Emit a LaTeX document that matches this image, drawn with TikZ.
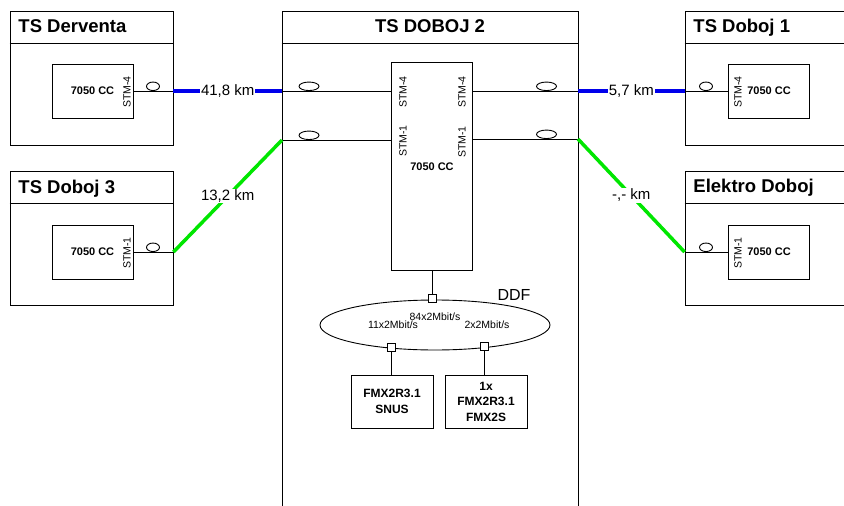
\documentclass[tikz,border=0pt]{standalone}
\usepackage{fontspec}
\setmainfont{Liberation Sans}
\usetikzlibrary{positioning,shapes.geometric}
\definecolor{fibreblue}{RGB}{0,0,235}
\definecolor{fibregreen}{RGB}{0,230,0}

\begin{document}
\begin{tikzpicture}[x=1pt, y=-1pt, line width=0.9pt,
  site/.style={draw, minimum width=163pt, minimum height=134pt, inner sep=0pt},
  title/.style={font=\bfseries\fontsize{18.5}{20}\selectfont, inner sep=0pt},
  unit/.style={draw, minimum width=81pt, minimum height=54pt, inner sep=0pt, font=\bfseries\fontsize{11}{13}\selectfont},
  stm/.style={font=\fontsize{10.5}{12}\selectfont, rotate=90, inner sep=0pt},
  lens/.style={draw, ellipse, minimum width=#1, minimum height=8.5pt, inner sep=0pt, anchor=south},
  lens/.default=13pt,
  tap/.style={draw, fill=white, minimum size=8pt, inner sep=0pt},
  fibre/.style={line width=3.5pt, draw=#1},
  dist/.style={font=\fontsize{15}{17}\selectfont, fill=white, inner sep=1pt},
  rate/.style={font=\fontsize{10.5}{12}\selectfont, inner sep=0pt},
  fmx/.style={draw, minimum width=82pt, minimum height=53pt, inner sep=0pt, align=center, font=\bfseries\fontsize{12}{15.5}\selectfont}]
\useasboundingbox (0,0) rectangle (844,506);

% TS DOBOJ 2
\node[site, minimum width=296pt, minimum height=499pt] (tsd) at (430,260.5) {};
\node[title, anchor=base] (tsdT) at (430,32) {TS DOBOJ 2};
\draw (tsd.west |- 0,43) -- (tsd.east |- 0,43);
\node[draw, minimum width=81pt, minimum height=208pt] (main) at (431.5,166) {};
\node[font=\bfseries\fontsize{11}{13}\selectfont] (mainCC) at (432,167) {7050 CC};
\node[stm] (mainW4) at (403,92) {STM-4};
\node[stm] (mainW1) at (403,141) {STM-1};
\node[stm] (mainE4) at (462,92) {STM-4};
\node[stm] (mainE1) at (462,142) {STM-1};
\coordinate (w4) at (282,91);
\coordinate (w1) at (282,140);
\coordinate (e4) at (578,91);
\coordinate (e1) at (578,139);
\draw (w4) -- (main.west |- w4);
\draw (w1) -- (main.west |- w1);
\draw (e4) -- (main.east |- e4);
\draw (e1) -- (main.east |- e1);
\node[lens=20pt] (lw4) at (309,91) {};
\node[lens=20pt] (lw1) at (309,140) {};
\node[lens=20pt] (le4) at (546.5,91) {};
\node[lens=20pt] (le1) at (546.5,139) {};

% DDF
\node[draw, ellipse, minimum width=230pt, minimum height=50pt, inner sep=0pt] (ddf) at (435,325) {};
\node[tap] (ddfT) at (432,298) {};
\node[tap] (ddfA) at (391,347) {};
\node[tap] (ddfB) at (484,346) {};
\draw (ddfT |- main.south) -- (ddfT);
\node[font=\fontsize{16}{18}\selectfont, inner sep=0pt] (ddfL) at (514,295) {DDF};
\node[rate] (r84) at (435,317) {84x2Mbit/s};
\node[rate] (r11) at (393,325) {11x2Mbit/s};
\node[rate] (r2) at (487,325) {2x2Mbit/s};
\node[fmx] (snus) at (392,401.5) {FMX2R3.1\\SNUS};
\node[fmx] (fmx2s) at (486,401.5) {1x\\FMX2R3.1\\FMX2S};
\draw (ddfA) -- (ddfA |- snus.north);
\draw (ddfB) -- (ddfB |- fmx2s.north);

% TS Derventa
\node[site] (der) at (91.5,78) {};
\node[title, anchor=base west] (derT) at (18,32) {TS Derventa};
\draw (der.west |- 0,43) -- (der.east |- 0,43);
\node[unit] (derU) at (92.5,91) {7050 CC};
\node[stm] (derS) at (127,92) {STM-4};
\coordinate (derP) at (der.east |- derU.east);
\draw (derU.east) -- (derP);
\node[lens] (derL) at (153,91) {};
\draw[fibre=fibreblue] (derP) -- node[dist] {41,8 km} (w4);

% TS Doboj 3
\node[site] (db3) at (91.5,238) {};
\node[title, anchor=base west] (db3T) at (18,193) {TS Doboj 3};
\draw (db3.west |- 0,203) -- (db3.east |- 0,203);
\node[unit] (db3U) at (92.5,252) {7050 CC};
\node[stm] (db3S) at (127,253) {STM-1};
\coordinate (db3P) at (db3.east |- db3U.east);
\draw (db3U.east) -- (db3P);
\node[lens] (db3L) at (153,252) {};
\draw[fibre=fibregreen] (w1) -- node[dist] {13,2 km} (db3P);

% TS Doboj 1
\node[site] (db1) at (766.5,78) {};
\node[title, anchor=base west] (db1T) at (693,32) {TS Doboj 1};
\draw (db1.west |- 0,43) -- (db1.east |- 0,43);
\node[unit] (db1U) at (769,91) {7050 CC};
\node[stm] (db1S) at (738,92) {STM-4};
\coordinate (db1P) at (db1.west |- db1U.west);
\draw (db1U.west) -- (db1P);
\node[lens] (db1L) at (706,91) {};
\draw[fibre=fibreblue] (e4) -- node[dist] {5,7 km} (db1P);

% Elektro Doboj
\node[site] (eld) at (766.5,238) {};
\node[title, anchor=base west] (eldT) at (693,192) {Elektro Doboj};
\draw (eld.west |- 0,203) -- (eld.east |- 0,203);
\node[unit] (eldU) at (769,252) {7050 CC};
\node[stm] (eldS) at (738,253) {STM-1};
\coordinate (eldP) at (eld.west |- eldU.west);
\draw (eldU.west) -- (eldP);
\node[lens] (eldL) at (706,252) {};
\draw[fibre=fibregreen] (e1) -- node[dist] {-,- km} (eldP);
\end{tikzpicture}
\end{document}
